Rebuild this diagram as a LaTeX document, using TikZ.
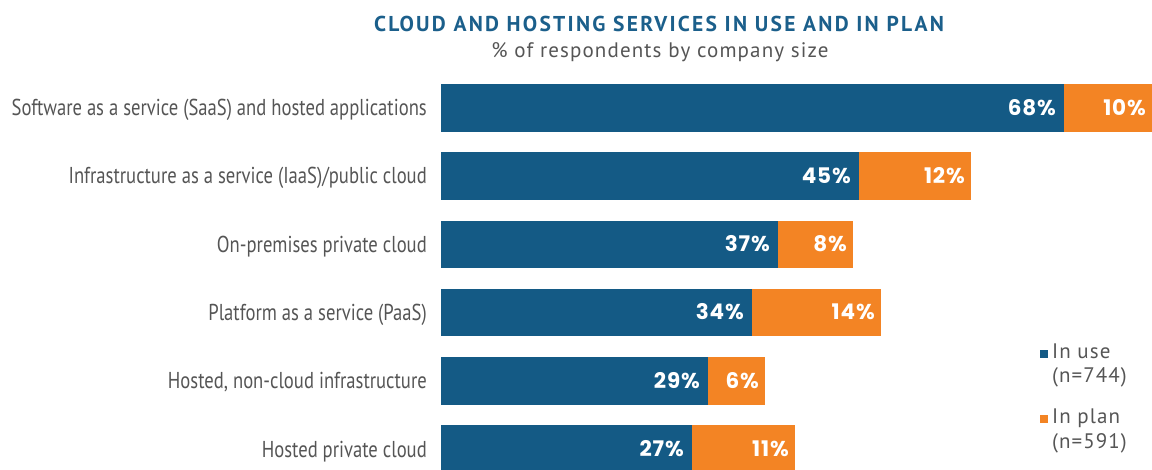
\documentclass[tikz,border=0pt]{standalone}
\usepackage{fontspec}
\setmainfont{PT Sans}
\newfontfamily\labfont{PT Sans}[FakeStretch=0.81]
\newfontfamily\titlefont{PT Sans}[LetterSpace=10.4]
\newfontfamily\subfont{PT Sans}[LetterSpace=5.4]
\newfontfamily\legfont{PT Sans}[LetterSpace=5]
\newfontfamily\numfont{Poppins}[LetterSpace=4]
\definecolor{usecol}{HTML}{145A85}
\definecolor{plancol}{HTML}{F38424}
\definecolor{labcol}{HTML}{555555}
\definecolor{titlecol}{HTML}{1B5F8B}
\begin{document}
\begin{tikzpicture}[x=1pt,y=-1pt,
  lab/.style={anchor=base east,text=labcol,font=\labfont\fontsize{23}{26}\selectfont,inner sep=0pt},
  val/.style={anchor=base east,text=white,font=\numfont\bfseries\fontsize{21.5}{24}\selectfont,inner sep=0pt},
  usebar/.style={fill=usecol,draw=none},
  planbar/.style={fill=plancol,draw=none},
  leg/.style={anchor=base west,text=labcol,font=\legfont\fontsize{21}{24}\selectfont,inner sep=0pt}]
\useasboundingbox (0,0) rectangle (1152,470);
\node[anchor=base,inner sep=0pt,text=titlecol,font=\titlefont\bfseries\fontsize{21.5}{24}\selectfont] (title) at (659,32) {CLOUD AND HOSTING SERVICES IN USE AND IN PLAN};
\node[anchor=base,inner sep=0pt,text=labcol,font=\subfont\fontsize{21}{24}\selectfont] (sub) at (660,58) {\% of respondents by company size};
% bars: top, bottom, useend, planend
\foreach \t/\b/\u/\p/\uv/\pv/\l [count=\i] in {
  84/132/1064/1152/68/10/{Software as a service (SaaS) and hosted applications},
  152/200/859/971/45/12/{Infrastructure as a service (IaaS)/public cloud},
  221/268/778/853/37/8/{On-premises private cloud},
  289/336/752/881/34/14/{Platform as a service (PaaS)},
  357/405/708/765/29/6/{Hosted, non-cloud infrastructure},
  425/473/692/795/27/11/{Hosted private cloud}}{
  \fill[usebar] (441,\t) rectangle (\u,\b);
  \fill[planbar] (\u,\t) rectangle (\p,\b);
  \node[lab] (lab\i) at (427,{(\t+\b)/2+8}) {\l};
  \node[val] (uv\i) at ({\u-8},{(\t+\b)/2+7.5}) {\uv\%};
  \node[val] (pv\i) at ({\p-6},{(\t+\b)/2+7.5}) {\pv\%};
}
\fill[usecol] (1040,350) rectangle (1048,358);
\node[leg] (leg1) at (1052,359) {In use};
\node[leg] (leg1n) at (1052,383) {(n=744)};
\fill[plancol] (1040,415) rectangle (1048,423);
\node[leg] (leg2) at (1052,424) {In plan};
\node[leg] (leg2n) at (1052,448) {(n=591)};
\end{tikzpicture}
\end{document}
